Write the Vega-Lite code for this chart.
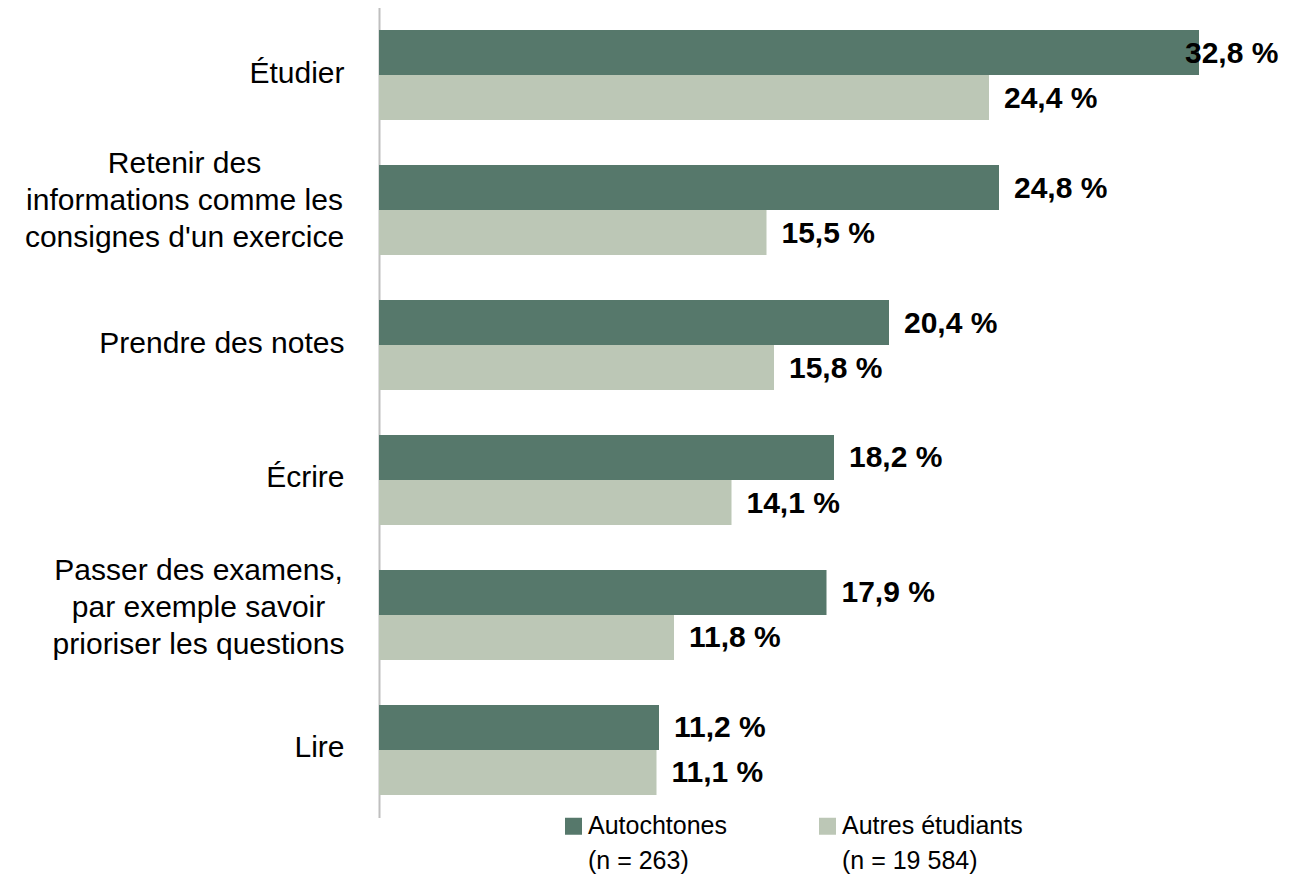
{
  "$schema": "https://vega.github.io/schema/vega-lite/v6.json",
  "width": 920,
  "height": 810,
  "autosize": {"type": "none"},
  "padding": {"left": 379, "top": 7.5, "right": 0, "bottom": 60.5},
  "background": "white",
  "config": {
    "view": {"stroke": null},
    "font": "Liberation Sans",
    "style": {"guide-label": {"lineHeight": 35}}
  },
  "data": {
    "values": [
      {"activite": "Étudier", "groupe": "Autochtones", "pct": 32.8},
      {"activite": "Étudier", "groupe": "Autres étudiants", "pct": 24.4},
      {"activite": "Retenir des informations comme les consignes d'un exercice", "groupe": "Autochtones", "pct": 24.8},
      {"activite": "Retenir des informations comme les consignes d'un exercice", "groupe": "Autres étudiants", "pct": 15.5},
      {"activite": "Prendre des notes", "groupe": "Autochtones", "pct": 20.4},
      {"activite": "Prendre des notes", "groupe": "Autres étudiants", "pct": 15.8},
      {"activite": "Écrire", "groupe": "Autochtones", "pct": 18.2},
      {"activite": "Écrire", "groupe": "Autres étudiants", "pct": 14.1},
      {"activite": "Passer des examens, par exemple savoir prioriser les questions", "groupe": "Autochtones", "pct": 17.9},
      {"activite": "Passer des examens, par exemple savoir prioriser les questions", "groupe": "Autres étudiants", "pct": 11.8},
      {"activite": "Lire", "groupe": "Autochtones", "pct": 11.2},
      {"activite": "Lire", "groupe": "Autres étudiants", "pct": 11.1}
    ]
  },
  "encoding": {
    "y": {
      "field": "activite",
      "type": "nominal",
      "sort": null,
      "scale": {"paddingInner": 0.33333, "paddingOuter": 0.16667},
      "axis": {
        "title": null,
        "ticks": false,
        "domainColor": "#bfbfbf",
        "domainWidth": 2,
        "labelFont": "Liberation Sans",
        "labelFontSize": 30,
        "labelColor": "#000000",
        "labelLimit": 600,
        "labelLineHeight": 37,
        "labelBaseline": "middle",
        "labelExpr": "indexof(datum.value,'Retenir')==0 ? ['Retenir des', 'informations comme les', \"consignes d'un exercice\"] : (indexof(datum.value,'Passer')==0 ? ['Passer des examens,', 'par exemple savoir', 'prioriser les questions'] : datum.value)",
        "labelAlign": {"condition": {"test": "indexof(datum.value,'Retenir')==0 || indexof(datum.value,'Passer')==0", "value": "center"}, "value": "right"},
        "labelPadding": {"condition": [{"test": "indexof(datum.value,'Retenir')==0", "value": 195}, {"test": "indexof(datum.value,'Passer')==0", "value": 181}], "value": 35},
        "labelOffset": {"condition": [{"test": "indexof(datum.value,'Retenir')==0", "value": -46}, {"test": "indexof(datum.value,'Passer')==0", "value": -44}], "value": -1.5}
      }
    },
    "yOffset": {
      "field": "groupe",
      "type": "nominal",
      "sort": ["Autochtones", "Autres étudiants"],
      "scale": {"paddingInner": 0, "paddingOuter": 0}
    },
    "x": {
      "field": "pct",
      "type": "quantitative",
      "scale": {"domain": [0, 36.8], "nice": false, "zero": true},
      "axis": null
    }
  },
  "layer": [
    {
      "mark": {"type": "bar"},
      "encoding": {
        "color": {
          "field": "groupe",
          "type": "nominal",
          "sort": ["Autochtones", "Autres étudiants"],
          "scale": {"domain": ["Autochtones", "Autres étudiants"], "range": ["#56786b", "#bcc7b6"]},
          "legend": {
            "title": null,
            "orient": "none",
            "legendX": 182,
            "legendY": 806,
            "direction": "horizontal",
            "columns": 2,
            "columnPadding": 88,
            "padding": 0,
            "symbolType": "square",
            "symbolSize": 289,
            "symbolStrokeWidth": 0,
            "symbolOpacity": 1,
            "labelOffset": 2,
            "labelFont": "Liberation Sans",
            "labelFontSize": 25,
            "labelColor": "#000000",
            "labelLimit": 400,
            "labelBaseline": "middle",
            "labelExpr": "datum.label == 'Autochtones' ? ['Autochtones', '(n = 263)'] : ['Autres étudiants', '(n = 19 584)']"
          }
        }
      }
    },
    {
      "transform": [
        {"filter": "datum.pct < 30"},
        {"calculate": "replace(format(datum.pct, '.1f'), '.', ',') + ' %'", "as": "lbl"}
      ],
      "mark": {"type": "text", "align": "left", "baseline": "middle", "dx": 15, "dy": 1, "fontWeight": "bold", "fontSize": 30, "font": "Liberation Sans", "color": "#000000"},
      "encoding": {"text": {"field": "lbl", "type": "nominal"}}
    },
    {
      "transform": [
        {"filter": "datum.pct >= 30"},
        {"calculate": "replace(format(datum.pct, '.1f'), '.', ',') + ' %'", "as": "lbl"}
      ],
      "mark": {"type": "text", "align": "left", "baseline": "middle", "dx": -14, "dy": 1, "fontWeight": "bold", "fontSize": 30, "font": "Liberation Sans", "color": "#000000"},
      "encoding": {"text": {"field": "lbl", "type": "nominal"}}
    }
  ]
}
